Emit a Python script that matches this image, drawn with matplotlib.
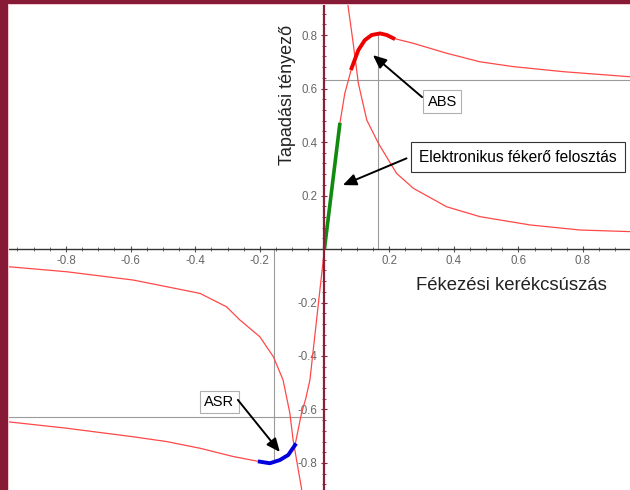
import numpy as np
import matplotlib
matplotlib.use('Agg')
import matplotlib.pyplot as plt
from matplotlib.patches import Rectangle
from matplotlib.ticker import MultipleLocator, FixedLocator

plt.rcParams['font.family'] = ['Liberation Sans', 'DejaVu Sans']

# tyre curve (slip -> adhesion)
main_s  = [-0.979, -0.798, -0.592, -0.488, -0.385, -0.282, -0.200, -0.169, -0.138, -0.112,
           -0.091, -0.071, -0.058, -0.045, 0.0, 0.048, 0.063, 0.084, 0.105, 0.125, 0.146,
           0.172, 0.193, 0.213, 0.275, 0.378, 0.481, 0.584, 0.739, 0.946]
main_mu = [-0.646, -0.670, -0.702, -0.720, -0.745, -0.776, -0.795, -0.801, -0.789, -0.770,
           -0.733, -0.614, -0.560, -0.490, 0.0, 0.472, 0.582, 0.676, 0.744, 0.781, 0.800,
           0.806, 0.800, 0.788, 0.769, 0.732, 0.700, 0.682, 0.663, 0.644]

# highlighted parts
ebd_s, ebd_mu = [0.0, 0.048], [0.0, 0.472]
abs_s  = [0.084, 0.105, 0.125, 0.146, 0.172, 0.193, 0.213]
abs_mu = [0.676, 0.744, 0.781, 0.800, 0.806, 0.800, 0.788]
asr_s  = [-0.200, -0.169, -0.138, -0.112, -0.091]
asr_mu = [-0.795, -0.801, -0.789, -0.770, -0.733]

# hyperbola-like curves
hyp1_s  = [0.068, 0.074, 0.089, 0.105, 0.131, 0.167, 0.223, 0.275, 0.378, 0.481, 0.636,
           0.791, 0.946]
hyp1_mu = [0.95, 0.900, 0.769, 0.619, 0.482, 0.395, 0.283, 0.227, 0.158, 0.121, 0.090,
           0.071, 0.065]
hyp2_s  = [-0.979, -0.798, -0.592, -0.488, -0.385, -0.303, -0.262, -0.200, -0.158, -0.128,
           -0.107, -0.097, -0.071, -0.069]
hyp2_mu = [-0.066, -0.085, -0.116, -0.141, -0.166, -0.216, -0.265, -0.328, -0.403, -0.490,
           -0.614, -0.714, -0.895, -0.95]

# guide lines
peak_pos = (0.167, 0.806)
peak_neg = (-0.156, -0.789)
h_pos, h_neg = 0.632, -0.628

xticks = [-0.8, -0.6, -0.4, -0.2, 0.2, 0.4, 0.6, 0.8]
yticks = [-0.8, -0.6, -0.4, -0.2, 0.2, 0.4, 0.6, 0.8]

fig = plt.figure(figsize=(6.3, 4.9), dpi=100)
ax = fig.add_axes([0, 0, 1, 1])
ax.set_xlim(-1.004, 0.9455)
ax.set_ylim(-0.901, 0.931)

red_thin = '#ff4848'
ax.plot(main_s, main_mu, color=red_thin, lw=0.9, zorder=3)
ax.plot(hyp1_s, hyp1_mu, color=red_thin, lw=0.9, zorder=3)
ax.plot(hyp2_s, hyp2_mu, color=red_thin, lw=0.9, zorder=3)
ax.plot(ebd_s, ebd_mu, color='#118a11', lw=2.6, zorder=4, solid_capstyle='butt')
ax.plot(abs_s, abs_mu, color='#ee0000', lw=2.8, zorder=4)
ax.plot(asr_s, asr_mu, color='#0000dd', lw=2.8, zorder=4)

g = '#9a9a9a'
ax.plot([peak_pos[0], peak_pos[0]], [0, peak_pos[1]], color=g, lw=0.8, zorder=2)
ax.plot([0, 1], [h_pos, h_pos], color=g, lw=0.8, zorder=2)
ax.plot([peak_neg[0], peak_neg[0]], [0, peak_neg[1]], color=g, lw=0.8, zorder=2)
ax.plot([-1.1, 0], [h_neg, h_neg], color=g, lw=0.8, zorder=2)

# axes through origin
for side in ['top', 'right']:
    ax.spines[side].set_visible(False)
ax.spines['left'].set_position(('data', 0))
ax.spines['bottom'].set_position(('data', 0))
ax.spines['left'].set_color('#8a1f38')
ax.spines['left'].set_linewidth(1.6)
ax.spines['bottom'].set_color('#333333')
ax.spines['bottom'].set_linewidth(1.0)
ax.spines['left'].set_zorder(5)

ax.xaxis.set_major_locator(FixedLocator(xticks))
ax.yaxis.set_major_locator(FixedLocator(yticks))
ax.xaxis.set_minor_locator(MultipleLocator(0.05))
ax.yaxis.set_minor_locator(MultipleLocator(0.04))
ax.set_xticklabels(['%g' % t for t in xticks])
ax.set_yticklabels(['%g' % t for t in yticks])
ax.tick_params(which='major', direction='inout', length=4, width=0.8, colors='#555555',
               labelsize=8.3, labelcolor='#666666')
ax.tick_params(which='minor', direction='inout', length=3, width=0.6, colors='#555555')
ax.tick_params(axis='x', pad=2)
ax.tick_params(axis='y', pad=3)
ax.tick_params(axis='y', which='both', colors='#8a1f38', labelcolor='#666666')

ax.text(0.580, -0.135, 'Fékezési kerékcsúszás', fontsize=13.3, color='#222222',
        ha='center', va='center')
ax.text(-0.113, 0.576, 'Tapadási tényező', fontsize=13, color='#222222',
        ha='center', va='center', rotation=90)

arrow = dict(arrowstyle='-|>,head_length=0.8,head_width=0.35', color='black', lw=1.4,
             shrinkA=0, shrinkB=0)
ax.text(0.365, 0.551, 'ABS', fontsize=10.5, ha='center', va='center', zorder=6,
        bbox=dict(boxstyle='square,pad=0.3', fc='white', ec='#b0b0b0', lw=0.8))
ax.annotate('', xy=(0.150, 0.725), xytext=(0.302, 0.568), arrowprops=arrow, zorder=6)

ax.text(0.599, 0.344, 'Elektronikus fékerő felosztás', fontsize=11.2, ha='center',
        va='center', zorder=6,
        bbox=dict(boxstyle='square,pad=0.5', fc='white', ec='#333333', lw=0.8))
ax.annotate('', xy=(0.057, 0.239), xytext=(0.254, 0.339), arrowprops=arrow, zorder=6)

ax.text(-0.325, -0.572, 'ASR', fontsize=10.5, ha='center', va='center', zorder=6,
        bbox=dict(boxstyle='square,pad=0.3', fc='white', ec='#b0b0b0', lw=0.8))
ax.annotate('', xy=(-0.138, -0.759), xytext=(-0.268, -0.564), arrowprops=arrow, zorder=6)

# slide frame
border = '#871a35'
fig.patches.append(Rectangle((0, 0), 8 / 630, 1, transform=fig.transFigure,
                             fc=border, ec='none', zorder=10))
fig.patches.append(Rectangle((0, 1 - 4 / 490), 1, 4 / 490, transform=fig.transFigure,
                             fc=border, ec='none', zorder=10))
fig.patches.append(Rectangle((8 / 630, 0), 1 / 630, 1 - 4 / 490, transform=fig.transFigure,
                             fc='#f0c8d0', ec='none', zorder=10))
fig.patches.append(Rectangle((8 / 630, 1 - 5 / 490), 1, 1 / 490, transform=fig.transFigure,
                             fc='#f0c8d0', ec='none', zorder=10))

fig.savefig('out.png', dpi=100)
